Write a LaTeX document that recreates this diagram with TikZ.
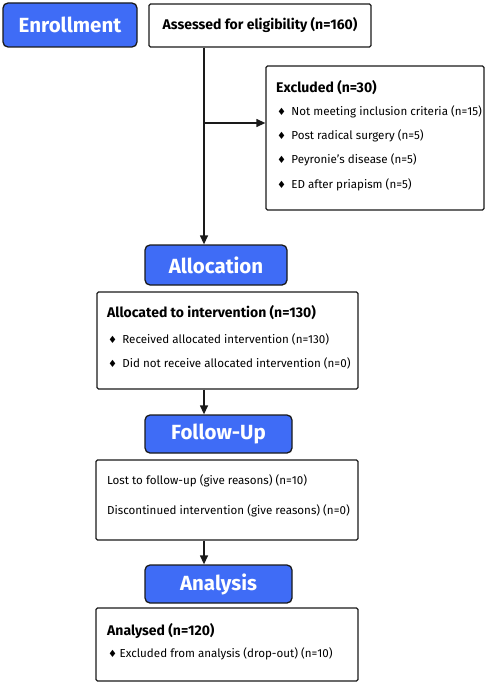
\documentclass[tikz,border=0pt]{standalone}
\usepackage{fontspec}
\setmainfont{Fira Sans}
\newfontfamily\symfont{DejaVu Sans}
\usetikzlibrary{arrows.meta, positioning, calc}
\definecolor{stagec}{HTML}{3F6CF6}
\definecolor{framec}{HTML}{1A1A1A}
\newcommand{\stage}[5]{%
  \node[stagebox, minimum width=#3, minimum height=#4] (#1) at #2 {#5};
}
\newcommand{\panel}[4]{%
  \node[panelbox, minimum width=#3, minimum height=#4] (#1) at #2 {};
}
\newcommand{\dia}{{\symfont\fontsize{10}{11}\selectfont ♦}}

\begin{document}
\begin{tikzpicture}[x=1pt, y=-1pt, >={Triangle[length=9pt, width=8pt]},
      stagebox/.style={draw=framec, fill=stagec, line width=1.3pt, rounded corners=5pt,
        inner sep=0pt, text=white, font=\fontsize{20.5}{24}\selectfont\bfseries},
      panelbox/.style={draw=framec, fill=white, line width=1.3pt, rounded corners=1.5pt,
        inner sep=0pt},
      headtext/.style={inner sep=0pt, anchor=west, font=\fontsize{14}{16}\selectfont\bfseries},
      itemtext/.style={inner sep=0pt, anchor=west, font=\fontsize{11.6}{13}\selectfont},
      flow/.style={->, line width=1.3pt, framec}]
    \useasboundingbox (0,0) rectangle (487,685);
    % stages
    \stage{enrol}{(70,25)}{134pt}{44pt}{Enrollment}
    \stage{alloc}{(216,265)}{142pt}{40pt}{Allocation}
    \stage{follow}{(218.5,434)}{147pt}{38pt}{Follow-Up}
    \stage{analysis}{(218.5,584)}{147pt}{38pt}{Analysis}
    % boxes
    \node[panelbox, minimum width=222pt, minimum height=43pt,
          font=\fontsize{14}{16}\selectfont\bfseries] (assess) at (260,25.5)
          {Assessed for eligibility (n=160)};
    \panel{excl}{(375,138)}{218pt}{144pt}
    \panel{allocbox}{(227.5,340.5)}{261pt}{97pt}
    \panel{lost}{(227,500)}{262pt}{80pt}
    \panel{analysed}{(227,644.5)}{262pt}{73pt}
    % texts
    \node[headtext] (exclhead) at (276,88) {Excluded (n=30)};
    \foreach \y/\txt in {112/Not meeting inclusion criteria (n=15),
        136/Post radical surgery (n=5), 160/Peyronie's disease (n=5),
        185/ED after priapism (n=5)} {
      \node[itemtext] at (277,\y) {\dia\hspace{5.2pt}\txt};
    }
    \node[headtext] (allochead) at (107,313) {Allocated to intervention (n=130)};
    \foreach \y/\txt in {339/Received allocated intervention (n=130),
        363/Did not receive allocated intervention (n=0)} {
      \node[itemtext] at (108,\y) {\dia\hspace{5.2pt}\txt};
    }
    \node[itemtext] (lost1) at (107,481) {Lost to follow-up (give reasons) (n=10)};
    \node[itemtext] (lost2) at (107,511) {Discontinued intervention (give reasons) (n=0)};
    \node[headtext] (anahead) at (107,631) {Analysed (n=120)};
    \node[itemtext] (ana1) at (108,654) {\dia\hspace{2.4pt}Excluded from analysis (drop-out) (n=10)};
    % connectors
    \coordinate (spine) at (204,0);
    \coordinate (branch) at (204,123);
    \draw[flow] (assess.south -| spine) -- (alloc.north -| spine);
    \draw[flow] (branch) -- (branch -| excl.west);
    \draw[flow] (allocbox.south -| spine) -- (follow.north -| spine);
    \draw[flow] (lost.south -| spine) -- (analysis.north -| spine);
\end{tikzpicture}
\end{document}
